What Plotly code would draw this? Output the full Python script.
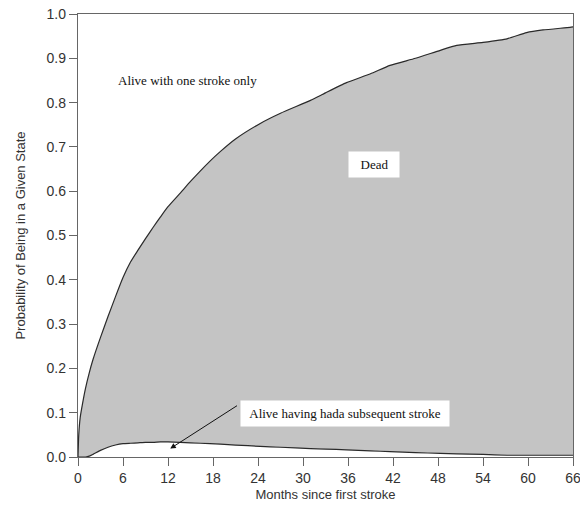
import plotly.graph_objects as go

months = [0, 0.1, 0.3, 0.6, 1, 1.5, 2, 3, 4, 5, 6, 7, 8, 9, 10, 11, 12, 13.6, 15, 17.6, 19, 21, 24.3, 27, 31, 33, 35.8, 39, 41.6, 45, 48.3, 50.5, 54, 57.2, 59.8, 62, 65.6, 66]
dead_upper = [0, 0.05, 0.09, 0.12, 0.155, 0.19, 0.22, 0.27, 0.317, 0.362, 0.405, 0.44, 0.467, 0.493, 0.518, 0.542, 0.565, 0.595, 0.622, 0.668, 0.69, 0.718, 0.753, 0.776, 0.805, 0.822, 0.845, 0.865, 0.884, 0.90, 0.918, 0.929, 0.936, 0.944, 0.958, 0.964, 0.970, 0.971]
subsequent = [0, 0, 0, 0, 0, 0.002, 0.006, 0.015, 0.022, 0.027, 0.030, 0.031, 0.032, 0.033, 0.033, 0.034, 0.034, 0.033, 0.032, 0.030, 0.029, 0.027, 0.024, 0.022, 0.019, 0.018, 0.016, 0.014, 0.012, 0.010, 0.008, 0.007, 0.006, 0.004, 0.004, 0.004, 0.004, 0.004]

x_ticks = list(range(0, 67, 6))
y_ticks = [i / 10 for i in range(11)]

line_col = "#2a2a2a"
fig = go.Figure()
fig.add_trace(go.Scatter(x=months, y=subsequent, mode="lines",
                         line=dict(color=line_col, width=1.2, shape="spline", smoothing=0.5),
                         hoverinfo="skip", showlegend=False))
fig.add_trace(go.Scatter(x=months, y=dead_upper, mode="lines", fill="tonexty",
                         fillcolor="#c4c4c4",
                         line=dict(color=line_col, width=1.2, shape="spline", smoothing=0.5),
                         hoverinfo="skip", showlegend=False))

serif = "Liberation Serif, Times New Roman, serif"
sans = "Liberation Sans, Arial, sans-serif"

fig.update_layout(
    width=580, height=525,
    margin=dict(l=78, r=7, t=14, b=68),
    paper_bgcolor="white", plot_bgcolor="white",
    font=dict(family=sans, color="#333333"),
    xaxis=dict(range=[0, 66], tickvals=x_ticks, ticktext=[str(v) for v in x_ticks],
               automargin=False, ticklabeloverflow="allow",
               showgrid=False, zeroline=False, showline=True, mirror=True,
               linecolor="#666666", linewidth=1.3, ticks="outside", ticklen=8,
               tickcolor="#666666", tickwidth=1.3, tickfont=dict(size=14, family=sans, color="#333333"),
               title=dict(text="Months since first stroke", font=dict(size=13, family=sans, color="#333333"), standoff=4)),
    yaxis=dict(range=[0, 1], tickvals=y_ticks, tickformat=".1f",
               automargin=False, ticklabeloverflow="allow",
               showgrid=False, zeroline=False, showline=True, mirror=True,
               linecolor="#666666", linewidth=1.3, ticks="outside", ticklen=8,
               tickcolor="#666666", tickwidth=1.3, tickfont=dict(size=14, family=sans, color="#333333"),
               title=dict(text="Probability of Being in a Given State", font=dict(size=13, family=sans, color="#333333"), standoff=18)),
)

fig.add_annotation(x=5.07, y=0.85, text="Alive with one stroke only", showarrow=False,
                   xanchor="left", yanchor="middle", font=dict(family=serif, size=13, color="#111111"))
fig.add_annotation(x=39.5, y=0.661, text="&nbsp;&nbsp;Dead&nbsp;&nbsp;", showarrow=False,
                   bgcolor="white", borderpad=5, font=dict(family=serif, size=13, color="#111111"))
fig.add_annotation(x=12.3, y=0.019, ax=21.4, ay=0.118, axref="x", ayref="y", xref="x", yref="y",
                   text="", showarrow=True, arrowhead=2, arrowsize=1.1, arrowwidth=1, arrowcolor="#111111")
fig.add_annotation(x=35.6, y=0.098, text="&nbsp;Alive having hada subsequent stroke&nbsp;", showarrow=False,
                   bgcolor="white", borderpad=5, font=dict(family=serif, size=13, color="#111111"))

fig.write_html("out.html", config={"displayModeBar": False},
               post_script="document.body.style.margin='0';document.body.style.overflow='hidden';")
